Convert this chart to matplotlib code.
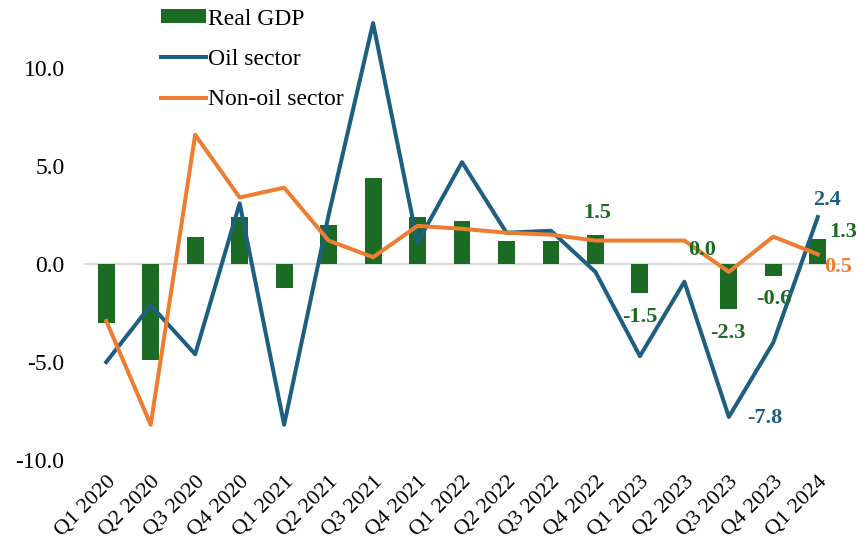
import matplotlib
matplotlib.use('Agg')
import matplotlib.pyplot as plt
import numpy as np

# Quarterly growth, %
quarters = ['Q1 2020', 'Q2 2020', 'Q3 2020', 'Q4 2020',
            'Q1 2021', 'Q2 2021', 'Q3 2021', 'Q4 2021',
            'Q1 2022', 'Q2 2022', 'Q3 2022', 'Q4 2022',
            'Q1 2023', 'Q2 2023', 'Q3 2023', 'Q4 2023', 'Q1 2024']
real_gdp = [-3.0, -4.9, 1.4, 2.4, -1.2, 2.0, 4.4, 2.4, 2.2, 1.2, 1.2, 1.5,
            -1.5, 0.0, -2.3, -0.6, 1.3]
oil = [-5.0, -2.1, -4.6, 3.1, -8.2, 2.5, 12.3, 1.1, 5.2, 1.6, 1.7, -0.4,
       -4.7, -0.9, -7.8, -4.0, 2.4]
non_oil = [-2.9, -8.2, 6.6, 3.4, 3.9, 1.2, 0.35, 1.95, 1.8, 1.6, 1.5, 1.2,
           1.2, 1.2, -0.4, 1.4, 0.5]

green = '#1c6b24'
blue = '#1d5f80'
orange = '#ed7d31'

plt.rcParams['font.family'] = ['Liberation Serif', 'DejaVu Serif']

fig = plt.figure(figsize=(8.66, 5.47), dpi=100)
ax = fig.add_axes([0.097, 0.159, 0.873, 0.806])

x = np.arange(len(quarters))
ax.axhline(0, color='#d9d9d9', lw=1.5, zorder=0)
bars = ax.bar(x, real_gdp, width=0.38, color=green, label='Real GDP', zorder=2)
l_oil, = ax.plot(x, oil, color=blue, lw=2.9, label='Oil sector', zorder=3, clip_on=False)
l_non, = ax.plot(x, non_oil, color=orange, lw=2.9, label='Non-oil sector', zorder=4, clip_on=False)

ax.set_xlim(-0.5, len(quarters) - 0.5)
ax.set_ylim(-10, 12.5)
ax.set_yticks([-10, -5, 0, 5, 10])
ax.set_yticklabels([f'{v:.1f}' for v in [-10, -5, 0, 5, 10]], fontsize=17)
ax.set_xticks(x)
ax.set_xticklabels(quarters, rotation=45, ha='right', rotation_mode='anchor', fontsize=16)
ax.tick_params(axis='both', length=0)
ax.tick_params(axis='y', pad=14)
ax.tick_params(axis='x', pad=9)
for s in ax.spines.values():
    s.set_visible(False)

# Data labels for the latest quarters
labels = [
    (11, real_gdp[11], '1.5', green, (1, 15.5)),
    (12, real_gdp[12], '-1.5', green, (0, -17)),
    (13, real_gdp[13], '0.0', green, (12.5, 10)),
    (14, real_gdp[14], '-2.3', green, (-1, -17)),
    (15, real_gdp[15], '-0.6', green, (0, -17)),
    (16, real_gdp[16], '1.3', green, (18, 4.7)),
    (16, non_oil[16], '0.5', orange, (14.5, -9.4)),
    (16, oil[16], '2.4', blue, (6.5, 12)),
    (14, oil[14], '-7.8', blue, (26, -1)),
]
for xi, yi, txt, col, off in labels:
    ax.annotate(txt, (xi, yi), xytext=off, textcoords='offset points',
                ha='center', va='center', fontsize=16, fontweight='bold',
                color=col, zorder=5, annotation_clip=False)

fig.legend([bars, l_oil, l_non], ['Real GDP', 'Oil sector', 'Non-oil sector'],
           loc='upper left', bbox_to_anchor=(0.172, 1.006), frameon=False,
           fontsize=17, handlelength=1.9, handleheight=0.55, handletextpad=0.1,
           labelspacing=0.82, borderpad=0)

fig.savefig('out.png', dpi=100)
